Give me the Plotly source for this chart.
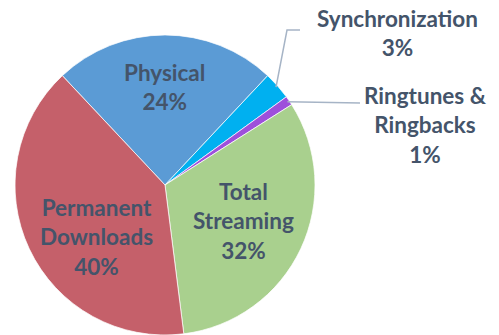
import math
import plotly.graph_objects as go

W, H = 499, 335

labels = ["Physical", "Synchronization", "Ringtunes &<br>Ringbacks", "Total<br>Streaming", "Permanent<br>Downloads"]
values = [24, 3, 1, 32, 40]
colors = ["#5B9BD5", "#00B0F0", "#9E4FDB", "#A9D08E", "#C5606A"]

# label placement (pixels) for each slice
label_pos = [(164, 87), (397, 33), (425, 125), (243, 221), (96, 237)]
# leader line corners for outside labels (pixels), None = inside label
leader_pts = [None, [(287, 30), (300, 30)], [(360, 103)], None, None]

text_color = "#44546A"
font_family = "Lato"
font_size = 22.5

# pie geometry in pixels
cx, cy, R = 165, 185, 150
total = sum(values)
rotation = -values[0] / total * 360 / 2

fig = go.Figure(go.Pie(
    labels=labels,
    values=values,
    sort=False,
    direction="clockwise",
    rotation=rotation,
    marker=dict(colors=colors, line=dict(color="rgba(255,255,255,0.7)", width=1)),
    textinfo="none",
    hoverinfo="label+percent",
    showlegend=False,
    domain=dict(x=[(cx - R) / W, (cx + R) / W], y=[(H - cy - R) / H, (H - cy + R) / H]),
))

annotations = []
shapes = []
start = rotation
for lab, v, (px, py), lead in zip(labels, values, label_pos, leader_pts):
    pct = round(v / total * 100)
    annotations.append(dict(
        x=px / W, y=1 - py / H, xref="paper", yref="paper",
        text=f"<b>{lab}<br>{pct}%</b>", showarrow=False,
        xanchor="center", yanchor="middle", align="center",
        font=dict(family=font_family, size=font_size, color=text_color),
    ))
    sweep = v / total * 360
    if lead is not None:
        mid = math.radians(start + sweep / 2)
        ex = cx + (R - 2) * math.sin(mid)
        ey = cy - (R - 2) * math.cos(mid)
        pts = [(ex, ey)] + lead
        path = "M " + " L ".join(f"{x / W},{1 - y / H}" for x, y in pts)
        shapes.append(dict(type="path", path=path, xref="paper", yref="paper",
                           line=dict(color="#A6B4C6", width=1.5)))
    start += sweep

fig.update_layout(
    width=W, height=H,
    margin=dict(l=0, r=0, t=0, b=0),
    paper_bgcolor="white", plot_bgcolor="white",
    annotations=annotations, shapes=shapes,
)

fig.write_html("out.html")
